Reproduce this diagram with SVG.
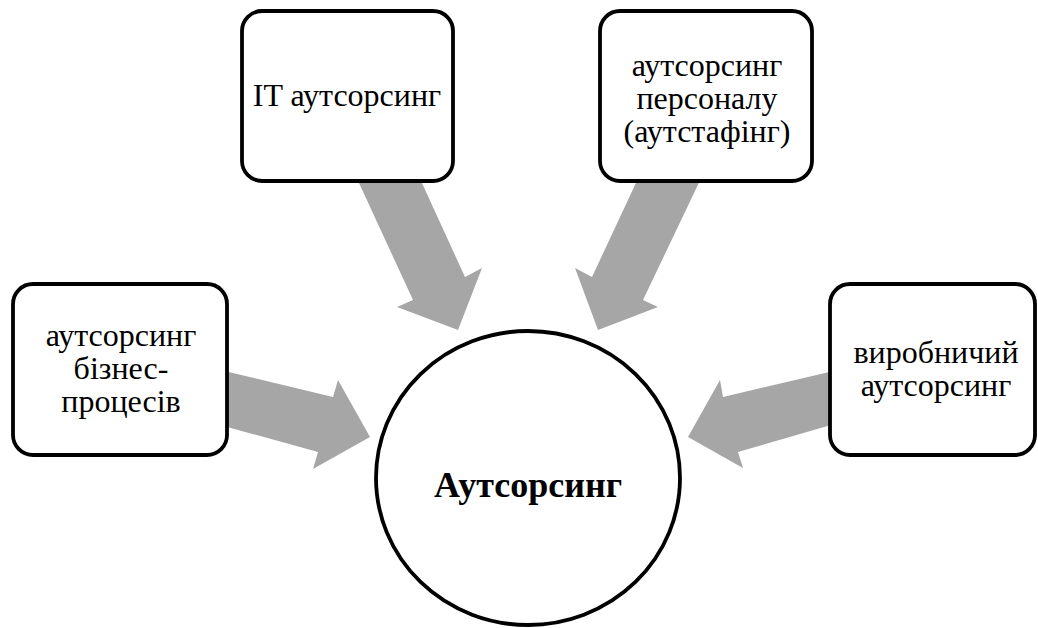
<svg xmlns="http://www.w3.org/2000/svg" width="1038" height="628" viewBox="0 0 1038 628">
<style>
.box{fill:#fff;stroke:#000;stroke-width:3.8}
.arr{fill:#a6a6a6;stroke:none}
.t{font-family:"Liberation Serif","Times New Roman",serif;font-size:32px;fill:#000;text-anchor:middle}
.b{font-weight:bold;font-size:36px}
</style>
<rect width="1038" height="628" fill="#fff"/>
<g id="connectors">
<polygon class="arr" points="220,370 333,397 338,380 370,437 313,469 318,452 220,425"/>
<polygon class="arr" points="838,370 723,397 720,380 688,437 743,468 738,452 838,423"/>
<polygon class="arr" points="353,170 413,300 397,307 458,330 482,268 465,277 416,170"/>
<polygon class="arr" points="705,170 643,300 658,307 598,330 575,268 592,277 642,170"/>
</g>
<g id="node-center">
<ellipse class="box" cx="528" cy="478" rx="152" ry="147"/>
<text class="t b" x="528" y="497">Аутсорсинг</text>
</g>
<g id="node-business">
<rect class="box" x="13" y="284" width="214" height="171" rx="20"/>
<text class="t" x="121" y="346">аутсорсинг</text>
<text class="t" x="121" y="379">бізнес-</text>
<text class="t" x="121" y="412">процесів</text>
</g>
<g id="node-it">
<rect class="box" x="242" y="11" width="211" height="170" rx="20"/>
<text class="t" x="347" y="106">IT аутсорсинг</text>
</g>
<g id="node-staff">
<rect class="box" x="600" y="11" width="212" height="170" rx="20"/>
<text class="t" x="707" y="76">аутсорсинг</text>
<text class="t" x="707" y="109">персоналу</text>
<text class="t" x="707" y="142">(аутстафінг)</text>
</g>
<g id="node-production">
<rect class="box" x="830" y="284" width="205" height="171" rx="20"/>
<text class="t" x="936" y="363">виробничий</text>
<text class="t" x="936" y="396">аутсорсинг</text>
</g>
</svg>
